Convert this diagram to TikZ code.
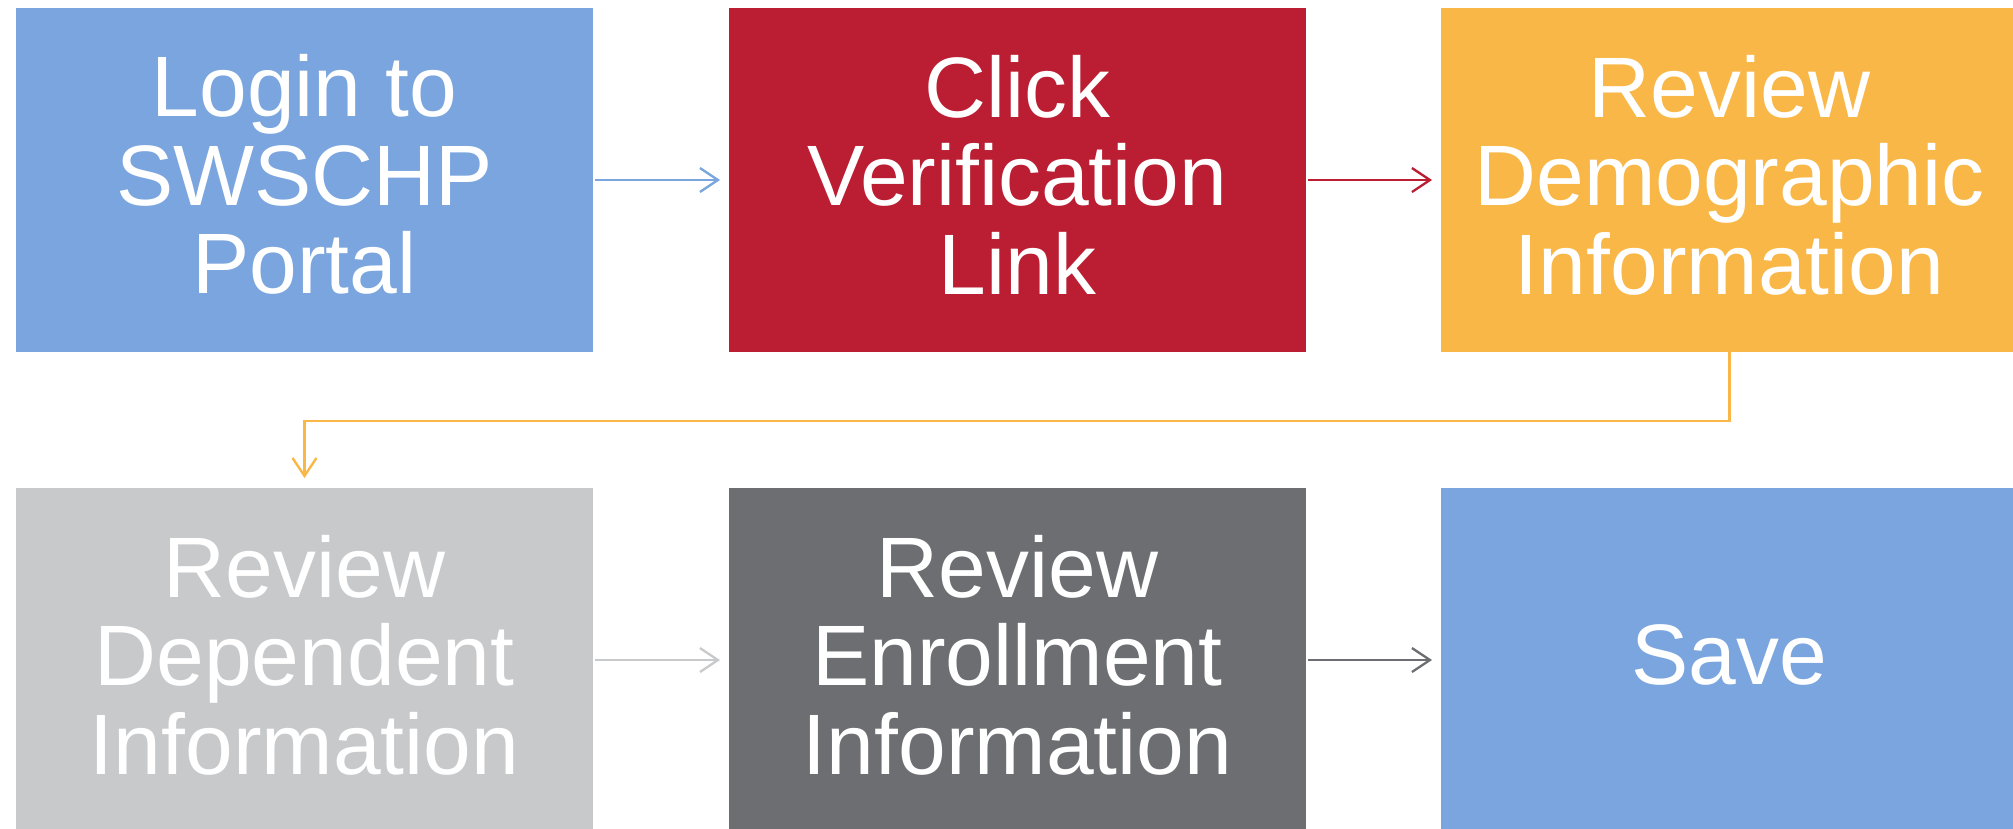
\documentclass[tikz,border=0pt]{standalone}
\usepackage{fontspec}
\setmainfont{Liberation Sans}
\usetikzlibrary{arrows.meta}

\definecolor{stepblue}{RGB}{123,165,222}
\definecolor{stepred}{RGB}{187,30,50}
\definecolor{steporange}{RGB}{248,183,70}
\definecolor{steplight}{RGB}{200,201,203}
\definecolor{stepdark}{RGB}{109,110,114}

\tikzset{
  stepbox/.style={draw=none, fill=#1, minimum width=577pt, minimum height=344pt,
    inner sep=0pt, outer sep=0pt},
  steptext/.style={text=white, align=center, inner sep=0pt,
    font=\fontsize{85.8}{88.5}\selectfont},
  flow/.style={draw=#1, line width=2.3pt,
    -{Straight Barb[length=18pt,width=24pt,line width=2.3pt]},
    shorten <=2pt, shorten >=9pt}
}

\begin{document}
\begin{tikzpicture}[x=1pt,y=-1pt]
\useasboundingbox (0,0) rectangle (2013,828);

% top row
\node[stepbox=stepblue]   (b1) at (304.5,180) {};
\node[stepbox=stepred]    (b2) at (1017.5,180) {};
\node[stepbox=steporange] (b3) at (1729.5,180) {};
% bottom row
\node[stepbox=steplight]  (b4) at (304.5,660) {};
\node[stepbox=stepdark]   (b5) at (1017.5,660) {};
\node[stepbox=stepblue]   (b6) at (1729.5,660) {};

% captions, set slightly above each box centre
\node[steptext] (t1) at ([yshift=5.5pt]b1.center) {Login to\\SWSCHP\\Portal};
\node[steptext] (t2) at ([yshift=5.5pt]b2.center) {Click\\Verification\\Link};
\node[steptext] (t3) at ([yshift=5pt]b3.center) {Review\\Demographic\\Information};
\node[steptext] (t4) at ([yshift=5pt]b4.center) {Review\\Dependent\\Information};
\node[steptext] (t5) at ([yshift=5pt]b5.center) {Review\\Enrollment\\Information};
\node[steptext] (t6) at ([yshift=5.5pt]b6.center) {Save};

% connectors
\draw[flow=stepblue]  (b1.east) -- (b2.west);
\draw[flow=stepred]   (b2.east) -- (b3.west);
\coordinate (bend) at (0,421);
\draw[flow=steporange, shorten <=0pt, shorten >=10pt]
  (b3.south) |- (bend -| b4.north) -- (b4.north);
\draw[flow=steplight] (b4.east) -- (b5.west);
\draw[flow=stepdark]  (b5.east) -- (b6.west);
\end{tikzpicture}
\end{document}
